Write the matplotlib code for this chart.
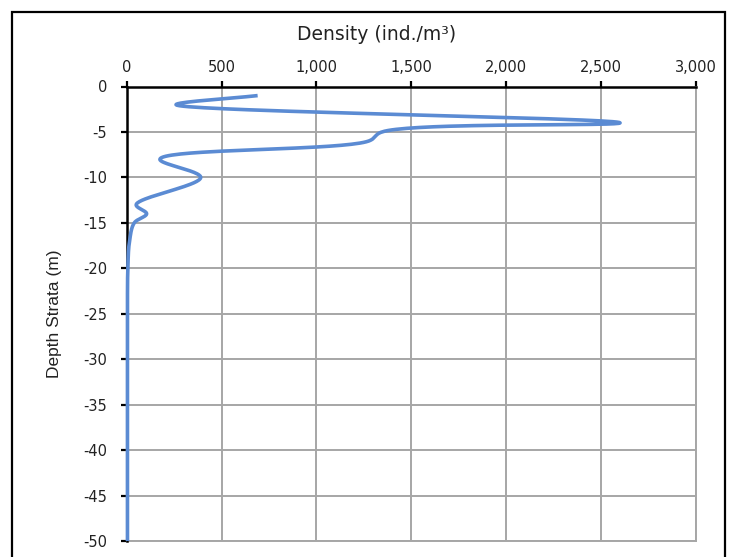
import numpy as np
import matplotlib.pyplot as plt
from matplotlib.patches import Rectangle

# values (density in ind./m3, depth in m)
density = [690, 260, 2600, 1345, 1275, 175, 390, 50, 105, 40, 15, 6, 4, 4, 4, 4, 4, 4]
depth = [-1, -2, -4, -5, -6, -8, -10, -13, -14, -15, -17, -20, -25, -30, -35, -40, -45, -50]
x_ticks = [0, 500, 1000, 1500, 2000, 2500, 3000]
y_ticks = [0, -5, -10, -15, -20, -25, -30, -35, -40, -45, -50]

font = ['DejaVu Sans']
narrow = ['Liberation Sans Narrow', 'Liberation Sans', 'DejaVu Sans']


def smooth(xs, ys, sx, sy, n=40):
    # centripetal Catmull-Rom through the points, worked out in pixel units
    p = np.column_stack([np.asarray(xs, float) * sx, np.asarray(ys, float) * sy])
    p = np.vstack([2 * p[0] - p[1], p, 2 * p[-1] - p[-2]])
    out = [p[1]]
    for i in range(1, len(p) - 2):
        p0, p1, p2, p3 = p[i - 1], p[i], p[i + 1], p[i + 2]
        t0 = 0.0
        t1 = t0 + np.linalg.norm(p1 - p0) ** 0.5
        t2 = t1 + np.linalg.norm(p2 - p1) ** 0.5
        t3 = t2 + np.linalg.norm(p3 - p2) ** 0.5
        t = np.linspace(t1, t2, n)[1:, None]
        a1 = (t1 - t) / (t1 - t0) * p0 + (t - t0) / (t1 - t0) * p1
        a2 = (t2 - t) / (t2 - t1) * p1 + (t - t1) / (t2 - t1) * p2
        a3 = (t3 - t) / (t3 - t2) * p2 + (t - t2) / (t3 - t2) * p3
        b1 = (t2 - t) / (t2 - t0) * a1 + (t - t0) / (t2 - t0) * a2
        b2 = (t3 - t) / (t3 - t1) * a2 + (t - t1) / (t3 - t1) * a3
        c = (t2 - t) / (t2 - t1) * b1 + (t - t1) / (t2 - t1) * b2
        out.extend(c)
    out = np.array(out)
    return out[:, 0] / sx, out[:, 1] / sy


fig = plt.figure(figsize=(7.32, 5.57), dpi=100)
ax = fig.add_axes([126.7 / 732, 1 - 541 / 557, (696 - 126.7) / 732, (541 - 86.5) / 557])

# outer chart border
fig.patches.append(Rectangle((12 / 732, -0.05), (725 - 12) / 732, 1.05 - 12 / 557,
                             transform=fig.transFigure, fill=False,
                             edgecolor='black', linewidth=1.6))

sx = 569.3 / 3000
sy = 454.5 / 50
xs, ys = smooth(density, depth, sx, sy)
ax.plot(xs, ys, color='#5b8bd3', linewidth=2.6, solid_capstyle='butt', zorder=5, clip_on=False)

ax.set_xlim(0, 3000)
ax.set_ylim(-50, 0)
ax.set_xticks(x_ticks)
ax.set_yticks(y_ticks)
ax.set_xticklabels([f'{v:,}' for v in x_ticks], fontfamily=font, fontsize=10.5, color='#222222')
ax.set_yticklabels([str(v) for v in y_ticks], fontfamily=font, fontsize=10.5, color='#222222')
ax.xaxis.tick_top()
ax.tick_params(axis='x', direction='out', length=4, width=1.6, color='black', pad=4)
ax.tick_params(axis='y', direction='out', length=4, width=1.6, color='black', pad=10)

ax.grid(True, color='#a6a6a6', linewidth=1.4)
ax.set_axisbelow(True)
for side in ['right', 'bottom']:
    ax.spines[side].set_color('#a6a6a6')
    ax.spines[side].set_linewidth(1.4)
for side in ['top', 'left']:
    ax.spines[side].set_color('black')
    ax.spines[side].set_linewidth(1.8)
    ax.spines[side].set_zorder(4)

# axis title sits over the whole chart, not over the plot area
fig.text(377 / 732, 1 - 34 / 557, 'Density (ind./m³)', fontfamily=font, fontsize=13.5,
         ha='center', va='center', color='#222222')
ax.set_ylabel('Depth Strata (m)', fontfamily=narrow, fontsize=12.5, labelpad=15, color='#222222')

fig.savefig('out.png', dpi=100)
